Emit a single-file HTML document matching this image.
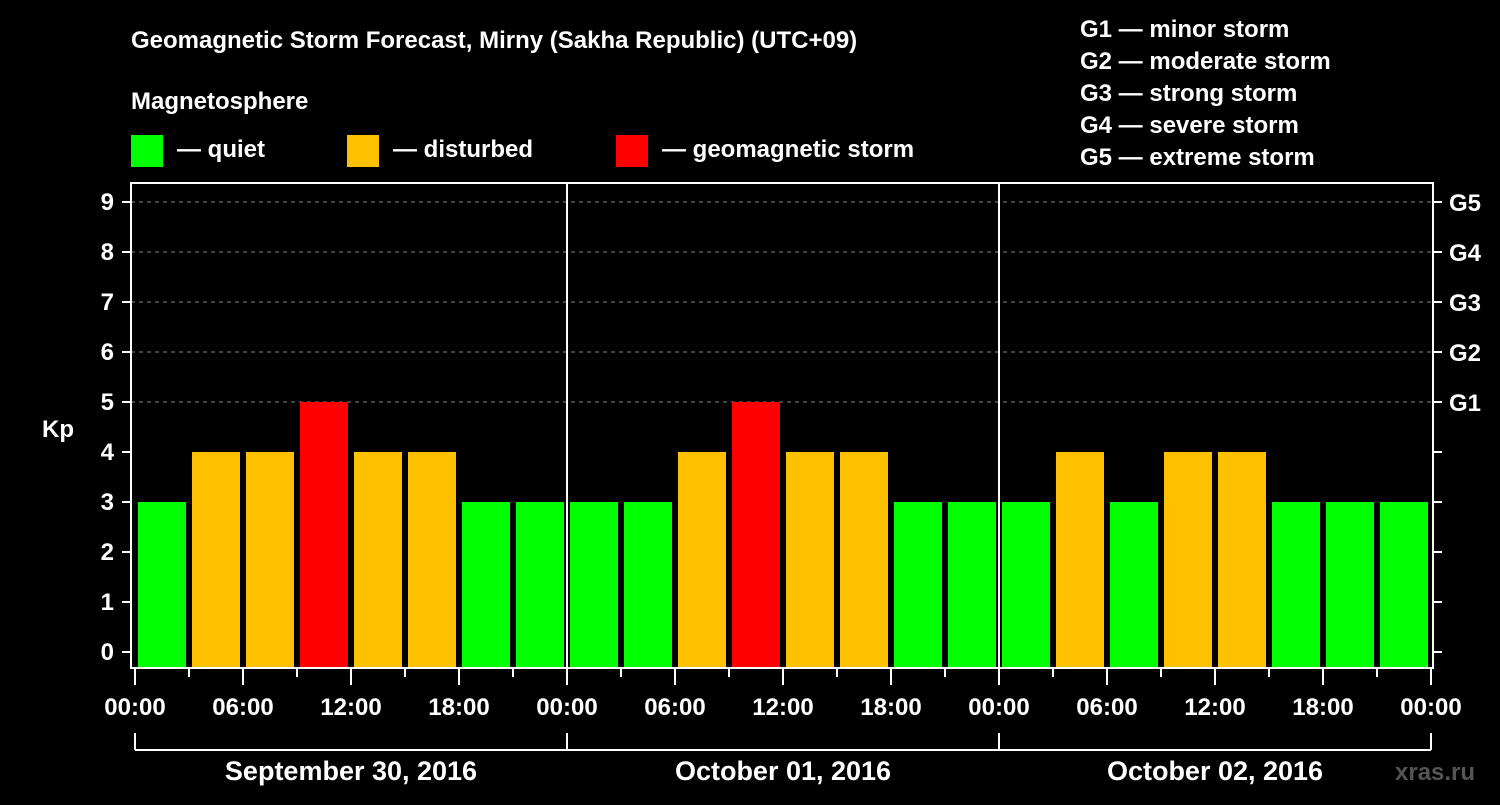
<!DOCTYPE html>
<html><head><meta charset="utf-8"><style>
body{margin:0;background:#000;width:1500px;height:800px;overflow:hidden}
svg{font-family:"Liberation Sans",Arial,sans-serif;font-weight:bold;fill:#fff}
</style></head><body>
<svg id="c" width="1500" height="800">
<text x="131" y="48" font-size="24">Geomagnetic Storm Forecast, Mirny (Sakha Republic) (UTC+09)</text>
<text x="131" y="109" font-size="24">Magnetosphere</text>
<g><rect x="131" y="135" width="32" height="32" fill="#00ff00"/><text x="177" y="157" font-size="24">— quiet</text></g>
<g><rect x="347" y="135" width="32" height="32" fill="#ffc000"/><text x="393" y="157" font-size="24">— disturbed</text></g>
<g><rect x="616" y="135" width="32" height="32" fill="#ff0000"/><text x="662" y="157" font-size="24">— geomagnetic storm</text></g>
<g font-size="24">
<text x="1080" y="37">G1 — minor storm</text><text x="1080" y="69">G2 — moderate storm</text><text x="1080" y="101">G3 — strong storm</text><text x="1080" y="133">G4 — severe storm</text><text x="1080" y="165">G5 — extreme storm</text></g>
<text x="42" y="437" font-size="24">Kp</text>
<text x="1395" y="780" font-size="24" fill="#555" style="fill:#555">xras.ru</text>
<g id="g"></g>
</svg>
<script>
const kpValues=[3,4,4,5,4,4,3,3, 3,3,4,5,4,4,3,3, 3,4,3,4,4,3,3,3];
const dayLabels=["September 30, 2016","October 01, 2016","October 02, 2016"];
const yTicks=[0,1,2,3,4,5,6,7,8,9];
const gLabels=["G1","G2","G3","G4","G5"];
const hourLabels=["00:00","06:00","12:00","18:00"];
const NS="http://www.w3.org/2000/svg",g=document.getElementById('g');
const L=131,R=1433,T=183,B=668;
const x=h=>135+18*h, y=v=>652-50*v;
function mk(t,a,txt){const e=document.createElementNS(NS,t);for(const k in a)e.setAttribute(k,a[k]);if(txt!==undefined)e.textContent=txt;g.appendChild(e);return e;}
function col(v){return v>=5?"#ff0000":v>=4?"#ffc000":"#00ff00";}
yTicks.forEach(v=>{
  if(v>=5){const l=mk('line',{x1:L,x2:R,y1:y(v),y2:y(v),stroke:"#888","stroke-dasharray":"4,4"});
  }
  mk('line',{x1:122,x2:L,y1:y(v),y2:y(v),stroke:"#fff","stroke-width":2});
  mk('line',{x1:R,x2:1442,y1:y(v),y2:y(v),stroke:"#fff","stroke-width":2});
  const t=mk('text',{x:114,y:y(v)+8,"font-size":24,"text-anchor":"end"},v);
  
});
gLabels.forEach((s,i)=>{const t=mk('text',{x:1449,y:y(5+i)+9,"font-size":24},s);
  });
kpValues.forEach((v,i)=>{const r=mk('rect',{x:x(3*i)+3,y:y(v),width:48,height:B-y(v),fill:col(v)});
  });
mk('rect',{x:L,y:T,width:R-L,height:B-T,fill:"none",stroke:"#fff","stroke-width":2});
for(let d=1;d<3;d++)mk('line',{x1:x(24*d),x2:x(24*d),y1:T,y2:B,stroke:"#fff","stroke-width":2});
for(let i=0;i<=24;i++){const h=3*i;mk('line',{x1:x(h),x2:x(h),y1:B,y2:i%2?677:685,stroke:"#fff","stroke-width":2});
  if(i%2==0){const t=mk('text',{x:x(h),y:715,"font-size":24,"text-anchor":"middle"},hourLabels[(i/2)%4]);
  }}
mk('line',{x1:x(0),x2:x(72),y1:750,y2:750,stroke:"#fff","stroke-width":2});
for(let d=0;d<=3;d++)mk('line',{x1:x(24*d),x2:x(24*d),y1:733,y2:750,stroke:"#fff","stroke-width":2});
dayLabels.forEach((s,d)=>{const t=mk('text',{x:x(24*d+12),y:780,"font-size":27,"text-anchor":"middle"},s);
  });
</script>
</body></html>
